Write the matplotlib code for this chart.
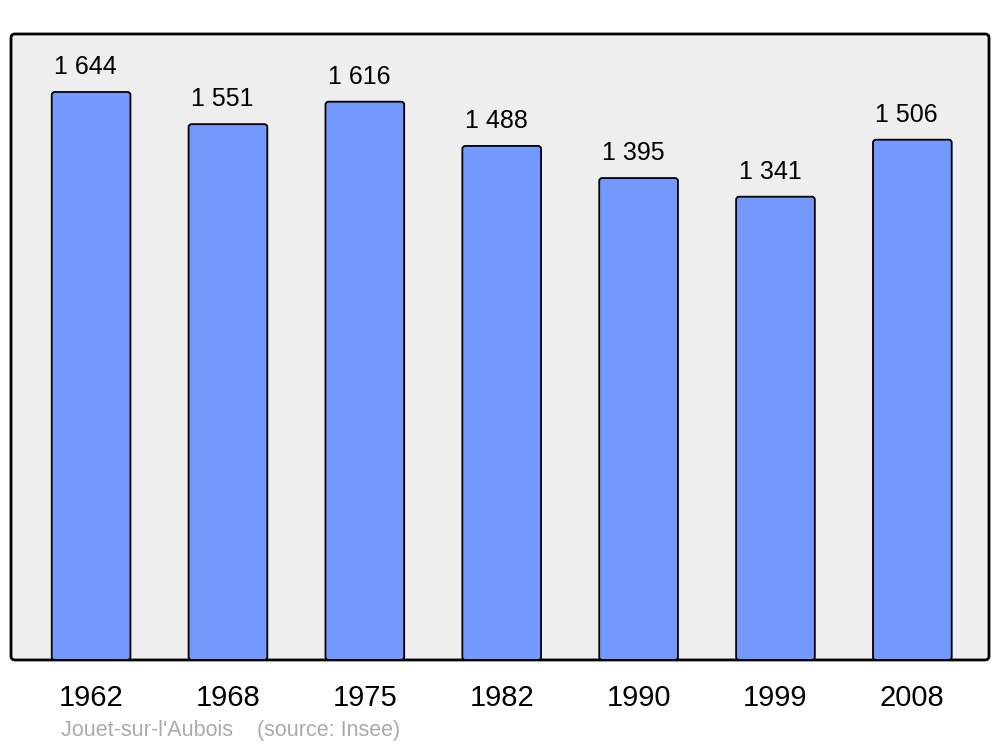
import matplotlib.pyplot as plt
from matplotlib.patches import FancyBboxPatch

plt.rcParams['font.family'] = ['Liberation Sans', 'DejaVu Sans']

years = ['1962', '1968', '1975', '1982', '1990', '1999', '2008']
population = [1644, 1551, 1616, 1488, 1395, 1341, 1506]
labels = ['1 644', '1 551', '1 616', '1 488', '1 395', '1 341', '1 506']

fig = plt.figure(figsize=(10, 7.47), dpi=100)
ax = fig.add_axes([0.011, 0.1165, 0.978, 0.838])
ax.set_facecolor('none')
ax.set_xlim(-0.585, 6.56)
ax.set_ylim(0, 1812)

# rounded frame instead of plain spines
for s in ax.spines.values():
    s.set_visible(False)
ax_w, ax_h = 978, 626
r = 4
frame = FancyBboxPatch((0, 0), 1, 1, transform=ax.transAxes,
                       boxstyle='round,pad=0,rounding_size=%f' % (r / ax_w),
                       mutation_aspect=ax_w / ax_h, facecolor='#eeeeee',
                       edgecolor='black', linewidth=2, clip_on=False, zorder=0)
ax.add_patch(frame)

x = range(len(years))
bars = ax.bar(x, population, width=0.575, color='#7399ff', edgecolor='black',
              linewidth=1.3, zorder=2)

# swap bars for slightly rounded boxes
px_x = ax_w / (6.56 + 0.585)
px_y = ax_h / 1812
for b in bars:
    b.set_visible(False)
    ax.add_patch(FancyBboxPatch((b.get_x(), 0), b.get_width(), b.get_height(),
                                boxstyle='round,pad=0,rounding_size=%f' % (3 / px_x),
                                mutation_aspect=px_x / px_y,
                                facecolor='#7399ff', edgecolor='black',
                                linewidth=1.3, zorder=2))

for i, v in enumerate(population):
    ax.annotate(labels[i], (i, v), xytext=(-4, 13), textcoords='offset points',
                ha='center', va='baseline', fontsize=18)

ax.set_yticks([])
ax.set_xticks(list(x))
ax.set_xticklabels(years, fontsize=21)
ax.tick_params(axis='x', length=0, pad=17)

fig.text(0.061, 0.015, "Jouet-sur-l'Aubois    (source: Insee)", color='#aaaaaa',
         fontsize=15.5, ha='left', va='baseline')

fig.savefig('out.png', dpi=100)
